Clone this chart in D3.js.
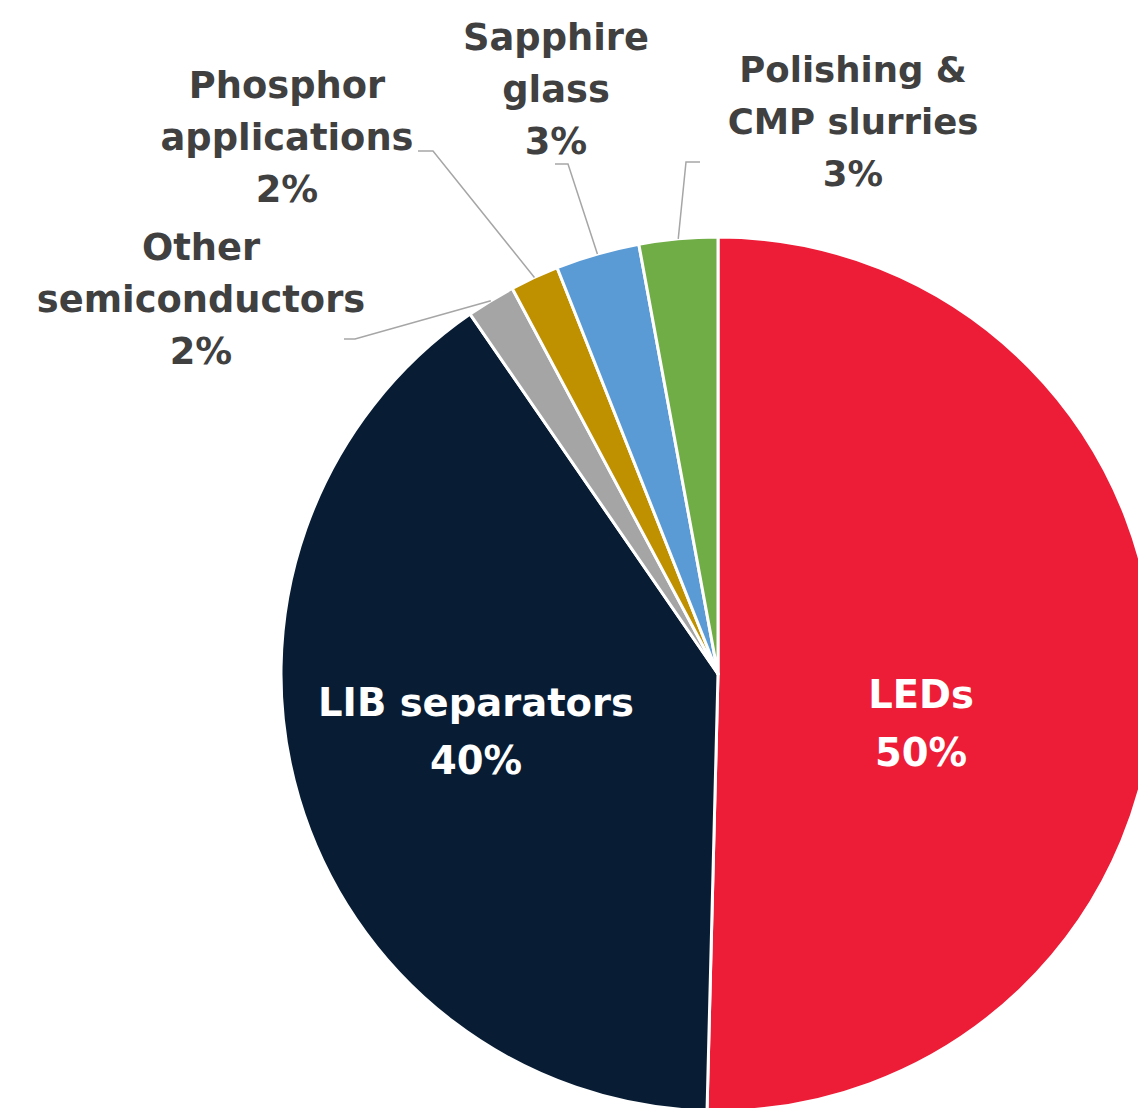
<!DOCTYPE html>
<html>
<head>
<meta charset="utf-8">
<script src="https://cdn.jsdelivr.net/npm/d3@7"></script>
<style>
  html, body { margin: 0; padding: 0; background: #fff; overflow: hidden; }
</style>
</head>
<body>
<div id="chart"></div>
<script>
// data, clockwise from 12 o'clock
const categories = ['LEDs', 'LIB separators', 'Other semiconductors', 'Phosphor applications', 'Sapphire glass', 'Polishing & CMP slurries']
const shares = [50.4, 40.0, 1.8, 1.8, 3.1, 2.9]
const pctLabels = ['50%', '40%', '2%', '2%', '3%', '3%']
const labelLines = [
  ['LEDs'],
  ['LIB separators'],
  ['Other', 'semiconductors'],
  ['Phosphor', 'applications'],
  ['Sapphire', 'glass'],
  ['Polishing &', 'CMP slurries']
]

const colors = ['#ED1C37', '#081D34', '#A5A5A5', '#BF9000', '#5B9BD5', '#70AD47']

// layout (label anchors and leader elbows)
const width = 1138, height = 1108
const cx = 718, cy = 674, radius = 437
const labelPos = [
  { x: 921, y: 708, inside: true },
  { x: 476, y: 716, inside: true },
  { x: 201, y: 260, elbow: [355, 339], end: [344, 339] },
  { x: 287, y: 98, elbow: [433, 151], end: [418, 151] },
  { x: 556, y: 50, elbow: [568, 164], end: [555, 164] },
  { x: 853, y: 82, elbow: [686, 162], end: [700, 162], size: 35.5 }
]

const svg = d3.select('#chart').append('svg')
  .attr('width', width)
  .attr('height', height)

const g = svg.append('g').attr('transform', `translate(${cx}, ${cy})`)

const data = categories.map((c, i) => ({ name: c, value: shares[i], i }))

const pie = d3.pie().sort(null).value(d => d.value)
const arc = d3.arc().innerRadius(0).outerRadius(radius)
const arcs = pie(data)

g.selectAll('path.slice')
  .data(arcs)
  .join('path')
  .attr('class', 'slice')
  .attr('d', arc)
  .attr('fill', d => colors[d.data.i])
  .attr('stroke', '#fff')
  .attr('stroke-width', 3)
  .attr('stroke-linejoin', 'round')

// leader lines for the small slices
const edge = d3.arc().innerRadius(radius).outerRadius(radius)
arcs.forEach(d => {
  const p = labelPos[d.data.i]
  if (p.inside) return
  const c = edge.centroid(d)
  const pts = [[c[0] + cx, c[1] + cy], p.elbow, p.end]
  svg.append('path')
    .attr('d', d3.line()(pts))
    .attr('fill', 'none')
    .attr('stroke', '#A6A6A6')
    .attr('stroke-width', 1.5)
})

// labels
arcs.forEach(d => {
  const i = d.data.i
  const p = labelPos[i]
  const lines = labelLines[i].concat([pctLabels[i]])
  const lh = p.inside ? 58 : 52
  const t = svg.append('text')
    .attr('x', p.x)
    .attr('y', p.y)
    .attr('text-anchor', 'middle')
    .attr('font-family', '"DejaVu Sans", sans-serif')
    .attr('font-weight', 'bold')
    .attr('font-size', p.size || (p.inside ? 38.5 : 36.8))
    .attr('fill', p.inside ? '#fff' : '#404040')
  lines.forEach((l, k) => {
    t.append('tspan').attr('x', p.x).attr('y', p.y + k * lh).text(l)
  })
})
</script>
</body>
</html>
